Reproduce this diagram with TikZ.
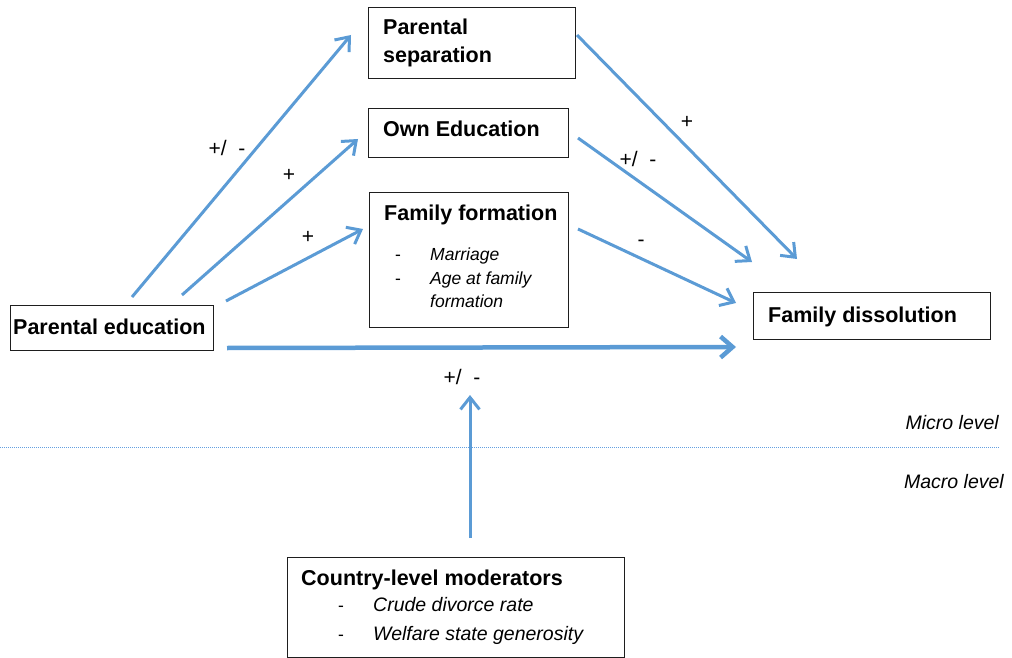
\documentclass[tikz,border=0pt]{standalone}
\usepackage{fontspec}
\setmainfont{Liberation Sans}
\usetikzlibrary{arrows.meta}
\definecolor{arrowblue}{RGB}{91,155,213}
\definecolor{dotblue}{RGB}{100,160,225}
\definecolor{boxline}{RGB}{30,30,30}
\begin{document}
\begin{tikzpicture}[x=1pt,y=-1pt,
  box/.style={draw=boxline,line width=1.3pt,inner sep=0pt,anchor=north west},
  title/.style={inner sep=0pt,anchor=base west,font=\fontsize{21.5}{28}\selectfont\bfseries},
  item/.style={inner sep=0pt,anchor=base west,font=\fontsize{17.5}{23}\selectfont\itshape},
  bigitem/.style={inner sep=0pt,anchor=base west,font=\fontsize{19.5}{26}\selectfont\itshape},
  dashitem/.style={inner sep=0pt,anchor=base west,font=\fontsize{17.5}{23}\selectfont},
  lvl/.style={inner sep=0pt,anchor=base east,font=\fontsize{19.5}{26}\selectfont\itshape},
  sign/.style={inner sep=0pt,font=\fontsize{21}{25}\selectfont},
  conn/.style={draw=arrowblue,line width=3pt,-{Straight Barb[length=12pt,width=19pt]}},
  thickconn/.style={draw=arrowblue,line width=4.5pt,-{Straight Barb[length=12pt,width=21pt]}}
]
\useasboundingbox (0,0) rectangle (1012,658);

% boxes
\node[box,minimum width=207pt,minimum height=71pt] (ps) at (368,7) {};
\node[box,minimum width=200pt,minimum height=49pt] (oe) at (368,108) {};
\node[box,minimum width=199pt,minimum height=135pt] (ff) at (369,192) {};
\node[box,minimum width=203pt,minimum height=45pt] (pe) at (10,305) {};
\node[box,minimum width=237pt,minimum height=47pt] (fd) at (753,292) {};
\node[box,minimum width=337pt,minimum height=100pt] (cm) at (287,557) {};

% box texts
\node[title] (pst1) at (383,35) {Parental};
\node[title] (pst2) at (383,63) {separation};
\node[title] (oet) at (383,137) {Own Education};
\node[title] (fft) at (384,220) {Family formation};
\node[dashitem] (ffd1) at (395,260) {-};
\node[item] (ffi1) at (430,260) {Marriage};
\node[dashitem] (ffd2) at (395,284) {-};
\node[item] (ffi2) at (430,284) {Age at family};
\node[item] (ffi3) at (430,307) {formation};
\node[title] (pet) at (13,334) {Parental education};
\node[title] (fdt) at (768,322) {Family dissolution};
\node[title] (cmt) at (301,585) {Country-level moderators};
\node[dashitem] (cmd1) at (338,611) {-};
\node[bigitem] (cmi1) at (373,611) {Crude divorce rate};
\node[dashitem] (cmd2) at (338,640) {-};
\node[bigitem] (cmi2) at (373,640) {Welfare state generosity};

% level labels and separator
\node[lvl] (micro) at (999,429) {Micro level};
\node[lvl] (macro) at (1004,488) {Macro level};
\coordinate (sepL) at (0,447);
\coordinate (sepR) at (999,447);
\draw[dotblue,line width=1pt,dash pattern=on 1pt off 1pt] (sepL) -- (sepR);

% connector end points
\coordinate (a1s) at (132,297); \coordinate (a1e) at (351,35);
\coordinate (a2s) at (182,295); \coordinate (a2e) at (358,139);
\coordinate (a3s) at (226,301); \coordinate (a3e) at (363,229);
\coordinate (a4s) at (227,348); \coordinate (a4e) at (736,347);
\coordinate (a5s) at (577,35);  \coordinate (a5e) at (797,259);
\coordinate (a6s) at (578,138); \coordinate (a6e) at (752,262);
\coordinate (a7s) at (578,229); \coordinate (a7e) at (736,303);
\coordinate (a8s) at (470,538); \coordinate (a8e) at (470,395);

\draw[conn] (a1s) -- (a1e);
\draw[conn] (a2s) -- (a2e);
\draw[conn] (a3s) -- (a3e);
\draw[thickconn] (a4s) -- (a4e);
\draw[conn] (a5s) -- (a5e);
\draw[conn] (a6s) -- (a6e);
\draw[conn] (a7s) -- (a7e);
\draw[conn] (a8s) -- (a8e);

% signs
\node[sign] (s1) at (227,148) {+/\ \ -};
\node[sign] (s2) at (289,175) {+};
\node[sign] (s3) at (308,237) {+};
\node[sign] (s5) at (687,122) {+};
\node[sign] (s6) at (638,159) {+/\ \ -};
\node[sign] (s7) at (641,243) {-};
\node[sign] (s8) at (462,377) {+/\ \ -};
\end{tikzpicture}
\end{document}
